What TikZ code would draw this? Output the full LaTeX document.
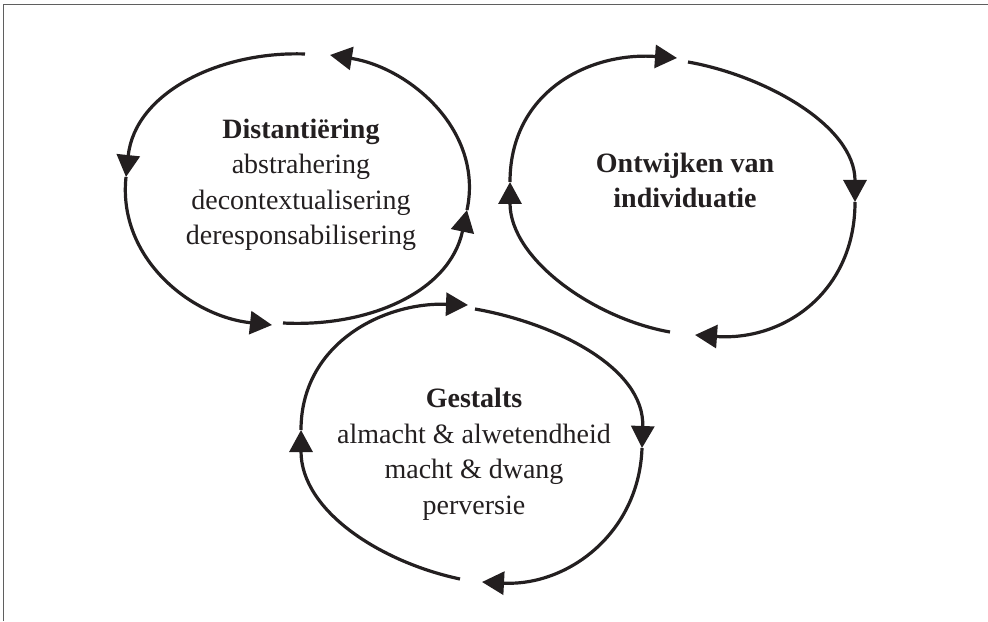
\documentclass[tikz,border=0pt]{standalone}
\usepackage{fontspec}
\setmainfont{Liberation Serif}
\usetikzlibrary{arrows.meta}

\begin{document}
\begin{tikzpicture}[x=0.5pt,y=0.5pt]
    % Colours
    \definecolor{inkblack}{RGB}{35,31,32}
    \definecolor{framegray}{RGB}{95,95,95}

    % Styles
    \tikzset{
        ringarrow/.style={
            draw=inkblack,
            line width=1.6pt,
            -{Triangle[length=11pt,width=11.5pt]}
        },
        ringtext/.style={
            text=inkblack,
            align=center,
            anchor=base,
            inner sep=0pt,
            font=\fontsize{14}{17.75}\selectfont
        },
        boxline/.style={
            draw=framegray,
            line width=0.8pt
        }
    }

    \useasboundingbox (0,0) rectangle (988,621);

    % Frame (top and left only)
    \draw[boxline] (3.3,0) |- (988,616.3);

    % Texts (placed at the baseline of the last line)
    \node[ringtext] (distant) at (301,376)
        {\textbf{Distantiëring}\\abstrahering\\decontextualisering\\deresponsabilisering};
    \node[ringtext, font=\fontsize{14}{17.75}\selectfont\bfseries] (ontwijk) at (685,413)
        {Ontwijken van\\individuatie};
    \node[ringtext] (gestalt) at (474,107)
        {\textbf{Gestalts}\\almacht \& alwetendheid\\macht \& dwang\\perversie};

    % Left cycle
    \coordinate (LtopS) at (305,567);
    \coordinate (LtopE) at (330,566);
    \coordinate (Lleft) at (126,444);
    \coordinate (LbotE) at (272,296);
    \coordinate (LbotS) at (283,298);
    \coordinate (Lright) at (467,411);

    \draw[ringarrow] (LtopS) to[out=178,in=84] (Lleft);
    \draw[ringarrow] (Lleft) to[out=264,in=174] (LbotE);
    \draw[ringarrow] (LbotS) to[out=-3,in=258] (Lright);
    \draw[ringarrow] (Lright) to[out=78,in=-9] (LtopE);

    % Right cycle
    \coordinate (RtopE) at (677,563);
    \coordinate (RtopS) at (688,559);
    \coordinate (Rright) at (855,419);
    \coordinate (RbotE) at (695,286);
    \coordinate (RbotS) at (670,289);
    \coordinate (Rleft) at (510,439);

    \draw[ringarrow] (RtopS) to[out=-10,in=90,looseness=0.9] (Rright);
    \draw[ringarrow] (Rright) to[out=270,in=-4,looseness=1.1] (RbotE);
    \draw[ringarrow] (RbotS) to[out=170,in=270,looseness=0.9] (Rleft);
    \draw[ringarrow] (Rleft) to[out=90,in=176,looseness=1.1] (RtopE);

    % Bottom cycle
    \coordinate (GtopE) at (468,316);
    \coordinate (GtopS) at (475,312);
    \coordinate (Gright) at (642,173);
    \coordinate (GbotE) at (482,39);
    \coordinate (GbotS) at (460,42);
    \coordinate (Gleft) at (301,191);

    \draw[ringarrow] (GtopS) to[out=-10,in=88,looseness=0.95] (Gright);
    \draw[ringarrow] (Gright) to[out=268,in=-3,looseness=1.05] (GbotE);
    \draw[ringarrow] (GbotS) to[out=168,in=270,looseness=0.95] (Gleft);
    \draw[ringarrow] (Gleft) to[out=90,in=178,looseness=1.05] (GtopE);
\end{tikzpicture}
\end{document}
